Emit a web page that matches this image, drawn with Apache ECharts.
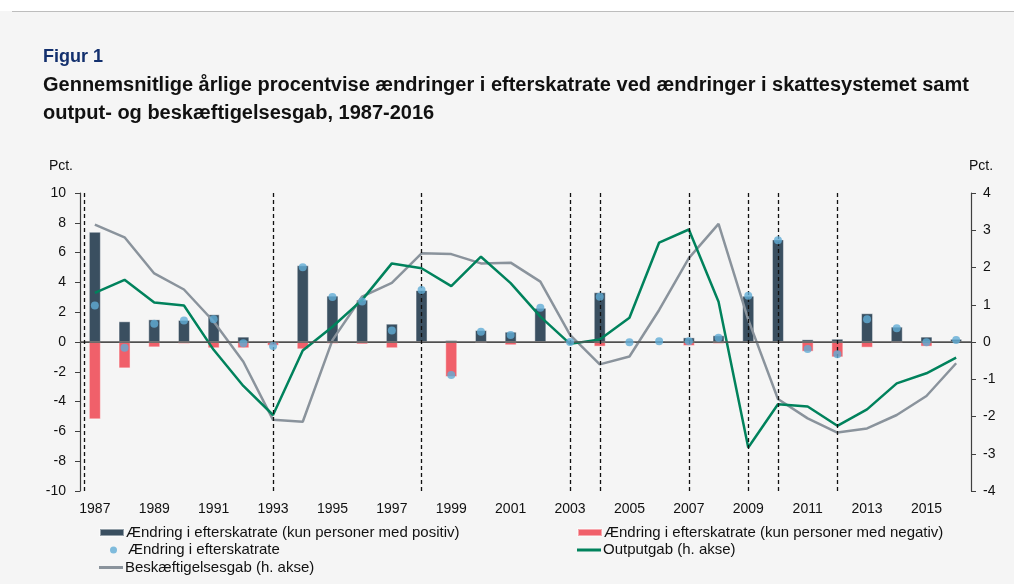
<!DOCTYPE html>
<html>
<head>
    <meta charset="utf-8" />
    <script src="https://cdn.jsdelivr.net/npm/echarts@6/dist/echarts.min.js"></script>
    <title>Figur 1</title>
    <style>
        body { margin: 0; background: #f5f5f5; }
        #main { width: 1014px; height: 584px; }
    </style>
</head>
<body>
    <div id="main"></div>

    <script type="text/javascript">

        var years = ['1987', '1988', '1989', '1990', '1991', '1992', '1993', '1994', '1995', '1996',
            '1997', '1998', '1999', '2000', '2001', '2002', '2003', '2004', '2005', '2006',
            '2007', '2008', '2009', '2010', '2011', '2012', '2013', '2014', '2015', '2016'];

        // venstre akse (pct.)
        var positiv = [7.40, 1.39, 1.52, 1.48, 1.86, 0.36, 0, 5.15, 3.11, 2.84,
            1.23, 3.49, 0.13, 0.80, 0.69, 2.30, 0, 3.34, 0.02, 0.10,
            0.31, 0.45, 3.11, 6.89, 0.18, 0.22, 1.93, 1.03, 0.36, 0.22];
        var negativ = [-5.19, -1.77, -0.36, -0.13, -0.42, -0.42, -0.25, -0.49, -0.13, -0.16,
            -0.42, 0, -2.35, -0.09, -0.22, 0, -0.05, -0.31, -0.05, 0,
            -0.27, -0.13, 0, 0, -0.65, -1.03, -0.38, -0.09, -0.31, 0];
        var efterskat = [2.45, -0.38, 1.23, 1.45, 1.52, -0.09, -0.27, 5.01, 3.02, 2.71,
            0.78, 3.49, -2.21, 0.69, 0.47, 2.30, 0.00, 3.04, -0.02, 0.05,
            0.05, 0.29, 3.11, 6.83, -0.47, -0.83, 1.52, 0.92, -0.02, 0.13];

        // hoejre akse (pct.)
        var outputgab = [1.32, 1.67, 1.06, 0.98, -0.21, -1.18, -1.96, -0.23, 0.41, 1.13,
            2.11, 1.98, 1.50, 2.29, 1.58, 0.68, -0.05, 0.07, 0.65, 2.67,
            3.02, 1.08, -2.83, -1.67, -1.73, -2.25, -1.81, -1.11, -0.84, -0.42];
        var beskgab = [3.15, 2.81, 1.84, 1.41, 0.55, -0.53, -2.09, -2.14, 0.05, 1.22,
            1.59, 2.38, 2.36, 2.11, 2.13, 1.62, 0.19, -0.60, -0.39, 0.86,
            2.25, 3.17, 0.60, -1.53, -2.05, -2.43, -2.32, -1.96, -1.45, -0.57];

        // lodrette stiplede linjer (aar)
        var skattereformer = [1986.65, 1993, 1998, 2003, 2004, 2007, 2009, 2010, 2012];

        var names = [
            'Ændring i efterskatrate (kun personer med positiv)',
            'Ændring i efterskatrate (kun personer med negativ)',
            'Ændring i efterskatrate',
            'Outputgab (h. akse)',
            'Beskæftigelsesgab (h. akse)'
        ];

        var font = 'Liberation Sans, Arial, sans-serif';
        var axisColor = '#404040';

        function legendItem(name, left, top, icon, h, textPad) {
            return {
                data: [name],
                left: left, top: top,
                padding: 0,
                icon: icon,
                itemWidth: 24, itemHeight: h,
                textStyle: { fontFamily: font, fontSize: 15, color: '#111', padding: [0, 0, 0, textPad] }
            };
        }

        var myChart = echarts.init(document.getElementById('main'));

        myChart.setOption({
            backgroundColor: '#f5f5f5',
            textStyle: { fontFamily: font },
            animation: false,
            graphic: [
                { type: 'rect', shape: { x: 0, y: 0, width: 1014, height: 11 }, style: { fill: '#ffffff' }, silent: true },
                { type: 'line', shape: { x1: 12, y1: 11.5, x2: 1014, y2: 11.5 }, style: { stroke: '#bdbdbd', lineWidth: 1 }, silent: true }
            ],
            title: [{
                text: 'Figur 1',
                left: 38, top: 43,
                textStyle: { fontFamily: font, fontSize: 18, fontWeight: 'bold', color: '#13306e' }
            }, {
                text: 'Gennemsnitlige årlige procentvise ændringer i efterskatrate ved ændringer i skattesystemet samt\noutput- og beskæftigelsesgab, 1987-2016',
                left: 38, top: 66,
                textStyle: { fontFamily: font, fontSize: 20, fontWeight: 'bold', color: '#111', lineHeight: 28 }
            }],
            legend: [
                legendItem(names[0], 99, 525, 'rect', 7, -3),
                legendItem(names[2], 110, 542.5, 'circle', 7, -2.5),
                legendItem(names[4], 99, 560, 'rect', 3, -3),
                legendItem(names[1], 577, 525, 'rect', 7, -3),
                legendItem(names[3], 577, 542.5, 'rect', 3, -3)
            ],
            grid: { left: 80, right: 43, top: 193, bottom: 93 },
            xAxis: [{
                type: 'category',
                data: years,
                boundaryGap: true,
                axisLine: { lineStyle: { color: axisColor, width: 1.2 } },
                axisTick: { interval: 0, length: 5, lineStyle: { color: axisColor } },
                axisLabel: { interval: 1, fontSize: 14, color: '#111', margin: 11 }
            }, {
                type: 'value',
                min: 1986.5, max: 2016.5,
                show: false
            }],
            yAxis: [{
                type: 'value',
                min: -10, max: 10, interval: 2,
                name: 'Pct.',
                nameLocation: 'end',
                nameGap: 20,
                nameTextStyle: { fontSize: 14, color: '#111', align: 'right', padding: [0, 7, 0, 0] },
                axisLine: { show: true, lineStyle: { color: axisColor, width: 1.2 } },
                axisTick: { show: true, length: 5, lineStyle: { color: axisColor } },
                axisLabel: { fontSize: 14, color: '#111', margin: 14 },
                splitLine: { show: false }
            }, {
                type: 'value',
                min: -4, max: 4, interval: 1,
                name: 'Pct.',
                nameLocation: 'end',
                nameGap: 20,
                nameTextStyle: { fontSize: 14, color: '#111', align: 'left', padding: [0, 0, 0, -2] },
                axisLine: { show: true, lineStyle: { color: axisColor, width: 1.2 } },
                axisTick: { show: true, length: 5, lineStyle: { color: axisColor } },
                axisLabel: { fontSize: 14, color: '#111', margin: 12 },
                splitLine: { show: false }
            }],
            series: [{
                name: names[0],
                type: 'bar',
                stack: 'skat',
                data: positiv,
                barWidth: 12,
                itemStyle: { color: '#3a4f60', borderColor: 'rgba(255,255,255,0.45)', borderWidth: 1 },
                markLine: {
                    silent: true,
                    symbol: 'none',
                    label: { show: false },
                    lineStyle: { color: '#555', width: 1.5, type: 'solid' },
                    data: [{ yAxis: 0 }]
                }
            }, {
                name: names[1],
                type: 'bar',
                stack: 'skat',
                data: negativ,
                barWidth: 12,
                itemStyle: { color: '#f0606a', borderColor: 'rgba(255,255,255,0.45)', borderWidth: 1 }
            }, {
                name: names[4],
                type: 'line',
                yAxisIndex: 1,
                data: beskgab,
                symbol: 'none',
                lineStyle: { color: '#8a939c', width: 2.5 },
                itemStyle: { color: '#8a939c' }
            }, {
                name: names[3],
                type: 'line',
                yAxisIndex: 1,
                data: outputgab,
                symbol: 'none',
                lineStyle: { color: '#00825c', width: 2.5 },
                itemStyle: { color: '#00825c' }
            }, {
                name: names[2],
                type: 'scatter',
                data: efterskat,
                symbolSize: 8,
                itemStyle: { color: '#62acd6' },
                z: 5
            }, {
                name: 'reformer',
                type: 'scatter',
                xAxisIndex: 1,
                data: [],
                markLine: {
                    silent: true,
                    symbol: 'none',
                    label: { show: false },
                    lineStyle: { color: '#111', width: 1.3, type: [4, 3] },
                    data: skattereformer.map(function (v) { return { xAxis: v }; })
                }
            }]
        });

    </script>
</body>
</html>
